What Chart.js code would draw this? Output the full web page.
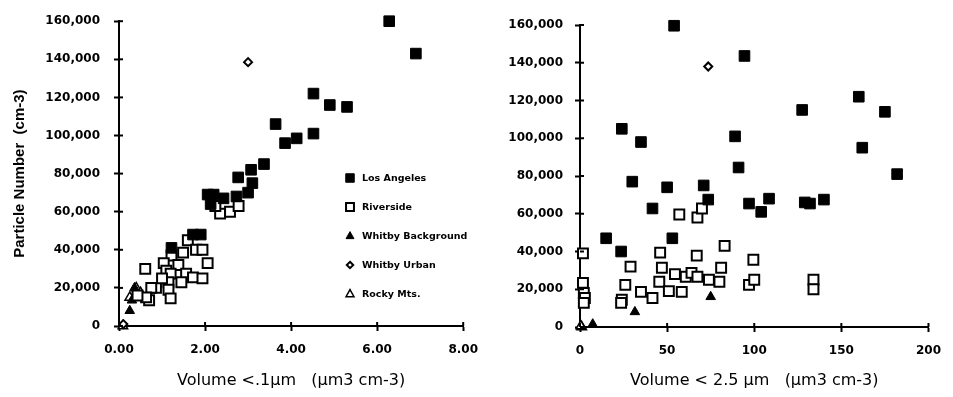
<!DOCTYPE html>
<html>
<head>
<meta charset="utf-8">
<script src="https://cdn.jsdelivr.net/npm/chart.js@4.4.1/dist/chart.umd.min.js"></script>
<style>
  body { margin: 0; background: #fff; width: 953px; height: 397px; overflow: hidden; position: relative; }
  canvas { position: absolute; top: 0; }
</style>
</head>
<body>
<canvas id="leftChart" width="490" height="397" style="left:0"></canvas>
<canvas id="rightChart" width="473" height="397" style="left:480px"></canvas>
<script>
// Series names
const seriesNames = ["Los Angeles", "Riverside", "Whitby Background", "Whitby Urban", "Rocky Mts."];

// Left panel: volume < 0.1 um (x) vs particle number (y)
const laFine = [[6.28,160000],[6.9,143000],[4.52,122000],[4.9,116000],[5.3,115000],[3.64,106000],[3.86,96000],[4.13,98500],[4.52,101000],[3.37,85000],[3.07,82000],[2.77,78000],[3.1,75000],[3.0,70000],[2.73,68000],[2.06,69000],[2.2,69000],[2.43,67000],[2.13,64000],[1.72,48000],[1.9,48000],[1.22,41000]];
const riversideFine = [[2.35,59000],[2.58,60000],[2.24,63000],[2.78,63000],[1.6,45000],[1.79,40000],[1.94,40000],[1.49,38500],[1.22,37000],[2.06,33000],[0.61,30000],[1.04,33000],[1.1,29000],[1.38,32000],[1.2,27500],[1.56,27500],[1.72,25500],[1.94,25000],[1.45,23000],[1.15,23000],[0.86,20000],[1.15,19000],[1.2,14500],[0.7,13500],[0.75,20000],[1.0,25000],[0.63,15000],[0.43,16000]];
const whitbyBgFine = [[0.25,8000],[0.36,20000],[0.3,13500]];
const whitbyUrbanFine = [[3.0,138500],[0.1,1000]];
const rockyFine = [[0.4,20000],[0.5,17500],[0.36,16000],[0.09,0],[0.25,15000]];

// Right panel: volume < 2.5 um (x) vs particle number (y)
const laTotal = [[54,159600],[94.4,143600],[160,122000],[175,114000],[127.5,115000],[24,105000],[35,98000],[89,101000],[162,95000],[91,84500],[182,81000],[30,77000],[50,74000],[71,75000],[73.6,67500],[41.6,62800],[97,65400],[108.5,68000],[104,61000],[129,66000],[132,65400],[140,67500],[15,47000],[53,47000],[23.6,40000]];
const riversideTotal = [[1.7,39000],[57,59600],[67.4,58000],[70,62800],[83,43000],[46,39400],[67,37800],[99.5,35600],[29,32000],[47,31400],[54.5,28000],[60.7,26600],[64,28700],[67.4,26600],[81,31400],[74,25000],[80,24000],[97,22300],[100,25000],[134,25000],[134,20000],[26,22300],[45.5,24000],[51,19000],[58.4,18600],[35,18600],[41.6,15400],[24,14400],[23.6,12800],[1.7,23400],[2.2,18000],[2.8,15400],[2.2,12800]];
const whitbyBgTotal = [[31.5,8000],[75,16000],[7.3,1500]];
const whitbyUrbanTotal = [[73.6,138000]];
const rockyTotal = [[1,0],[0.5,500]];

const yTicks = [0, 20000, 40000, 60000, 80000, 100000, 120000, 140000, 160000];

const styles = [
  { pointStyle: "rect", radius: 7.5, fill: "#000", border: "#000", bw: 1 },
  { pointStyle: "rect", radius: 7, fill: "#fff", border: "#000", bw: 2 },
  { pointStyle: "triangle", radius: 5.5, fill: "#000", border: "#000", bw: 1 },
  { pointStyle: "rectRot", radius: 4, fill: "#fff", border: "#000", bw: 2 },
  { pointStyle: "triangle", radius: 5.5, fill: "#fff", border: "#000", bw: 1.5 }
];

function toPoints(arr) { return arr.map(p => ({ x: p[0], y: p[1] })); }

function makeDatasets(lists) {
  return lists.map((list, i) => ({
    label: seriesNames[i],
    data: toPoints(list),
    pointStyle: styles[i].pointStyle,
    pointRadius: styles[i].radius,
    pointBackgroundColor: styles[i].fill,
    pointBorderColor: styles[i].border,
    pointBorderWidth: styles[i].bw,
    showLine: false,
    clip: false
  }));
}

// Short tick marks on the inner side of the axes
const innerTicks = {
  id: "innerTicks",
  afterDraw(chart) {
    const ctx = chart.ctx;
    const xs = chart.scales.x, ys = chart.scales.y;
    ctx.save();
    ctx.strokeStyle = "#000";
    ctx.lineWidth = 2;
    xs.ticks.forEach(t => {
      const px = xs.getPixelForValue(t.value);
      ctx.beginPath(); ctx.moveTo(px, xs.top); ctx.lineTo(px, xs.top - 4); ctx.stroke();
    });
    ys.ticks.forEach(t => {
      const py = ys.getPixelForValue(t.value);
      ctx.beginPath(); ctx.moveTo(ys.right, py); ctx.lineTo(ys.right + 4, py); ctx.stroke();
    });
    ctx.restore();
  }
};

function drawMarker(ctx, st, x, y) {
  ctx.save();
  ctx.fillStyle = st.fill;
  ctx.strokeStyle = st.border;
  ctx.lineWidth = st.bw;
  const r = st.radius * 0.8;
  ctx.beginPath();
  if (st.pointStyle === "rect") {
    const s = r * Math.SQRT1_2;
    ctx.rect(x - s, y - s, 2 * s, 2 * s);
  } else if (st.pointStyle === "rectRot") {
    ctx.moveTo(x, y - r); ctx.lineTo(x + r, y); ctx.lineTo(x, y + r); ctx.lineTo(x - r, y); ctx.closePath();
  } else {
    ctx.moveTo(x, y - r); ctx.lineTo(x + r * 0.9, y + r * 0.6); ctx.lineTo(x - r * 0.9, y + r * 0.6); ctx.closePath();
  }
  ctx.fill();
  ctx.stroke();
  ctx.restore();
}

// Legend inside the left plot
const insideLegend = {
  id: "insideLegend",
  afterDraw(chart) {
    const ctx = chart.ctx;
    ctx.save();
    ctx.font = "bold 9.5px 'DejaVu Sans', sans-serif";
    ctx.fillStyle = "#000";
    ctx.textBaseline = "middle";
    chart.data.datasets.forEach((ds, i) => {
      const y = 178 + i * 29;
      drawMarker(ctx, styles[i], 350, y);
      ctx.fillText(ds.label, 362, y + 1);
    });
    ctx.restore();
  }
};

function scaleOptions(xMax, xStep, xFmt, xTitle, yWidth, xHeight, yTitle, yTickPad) {
  return {
    x: {
      type: "linear", min: 0, max: xMax,
      afterFit: s => { s.height = xHeight; },
      ticks: { stepSize: xStep, callback: xFmt, color: "#000", padding: 12,
               font: { family: "'DejaVu Sans', sans-serif", size: 12, weight: "bold" } },
      grid: { drawOnChartArea: false, tickLength: 5, tickWidth: 2, color: "#000" },
      border: { color: "#000", width: 2 },
      title: { display: true, text: xTitle, color: "#000", padding: { top: 0, bottom: 7 },
               font: { family: "'DejaVu Sans', sans-serif", size: 16 } }
    },
    y: {
      type: "linear", min: 0, max: 160000,
      afterFit: s => { s.width = yWidth; },
      afterBuildTicks: s => { s.ticks = yTicks.map(v => ({ value: v })); },
      ticks: { color: "#000", padding: yTickPad, callback: v => v.toLocaleString("en-US"),
               font: { family: "'DejaVu Sans', sans-serif", size: 12, weight: "bold" } },
      grid: { drawOnChartArea: false, tickLength: 5, tickWidth: 2, color: "#000" },
      border: { color: "#000", width: 2 },
      title: { display: !!yTitle, text: yTitle, color: "#000", padding: { top: 11, bottom: 0 },
               font: { family: "'Liberation Sans', Arial, sans-serif", size: 15, weight: "bold" } }
    }
  };
}

new Chart(document.getElementById("leftChart"), {
  type: "scatter",
  data: { datasets: makeDatasets([laFine, riversideFine, whitbyBgFine, whitbyUrbanFine, rockyFine]) },
  options: {
    responsive: false, animation: false, devicePixelRatio: 1,
    layout: { padding: { left: 0, top: 19, right: 17, bottom: 0 } },
    plugins: { legend: { display: false }, tooltip: { enabled: false } },
    scales: scaleOptions(8, 2, v => v.toFixed(2), "Volume <.1\u00b5m   (\u00b5m3 cm-3)", 119, 71,
                         "Particle Number  (cm-3)", 14)
  },
  plugins: [innerTicks, insideLegend]
});

new Chart(document.getElementById("rightChart"), {
  type: "scatter",
  data: { datasets: makeDatasets([laTotal, riversideTotal, whitbyBgTotal, whitbyUrbanTotal, rockyTotal]) },
  options: {
    responsive: false, animation: false, devicePixelRatio: 1,
    layout: { padding: { left: 0, top: 25, right: 17, bottom: 0 } },
    plugins: { legend: { display: false }, tooltip: { enabled: false } },
    scales: scaleOptions(200, 50, v => v, "Volume < 2.5 \u00b5m   (\u00b5m3 cm-3)", 100, 70, "", 12)
  },
  plugins: [innerTicks]
});
</script>
</body>
</html>
